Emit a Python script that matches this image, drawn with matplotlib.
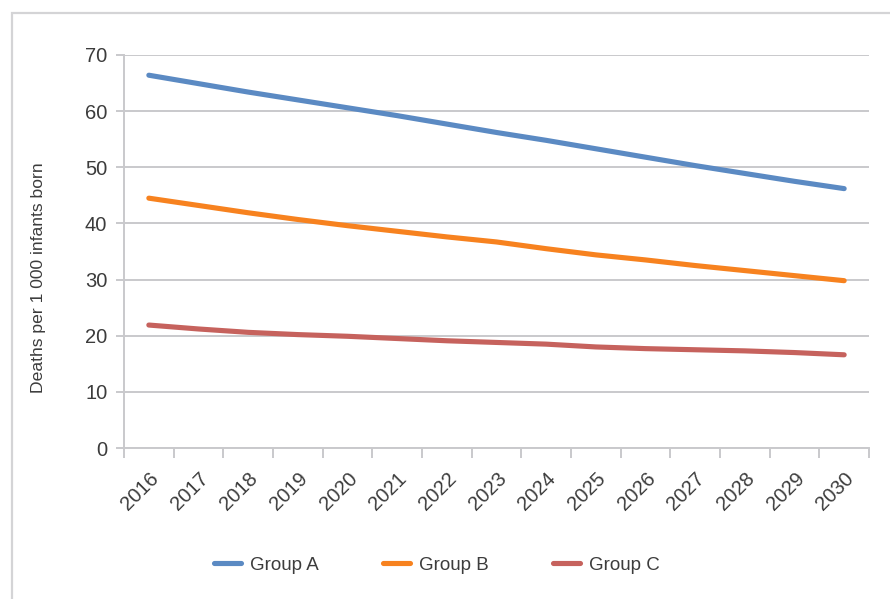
import matplotlib
matplotlib.use("Agg")
import matplotlib.pyplot as plt
from matplotlib.patches import Rectangle
import numpy as np

years = [str(y) for y in range(2016, 2031)]
group_a = [66.4, 64.9, 63.4, 62.0, 60.6, 59.2, 57.7, 56.2, 54.8, 53.3, 51.8, 50.3, 48.9, 47.5, 46.2]
group_b = [44.5, 43.2, 41.9, 40.7, 39.6, 38.6, 37.6, 36.7, 35.5, 34.4, 33.5, 32.5, 31.6, 30.7, 29.8]
group_c = [21.9, 21.2, 20.6, 20.2, 19.9, 19.5, 19.1, 18.8, 18.5, 18.0, 17.7, 17.5, 17.3, 17.0, 16.6]
series_names = ["Group A", "Group B", "Group C"]
colors = ["#5b8ac3", "#f7821f", "#c6625d"]
y_ticks = [0, 10, 20, 30, 40, 50, 60, 70]

plt.rcParams['font.family'] = ['Liberation Sans', 'DejaVu Sans']
txt = "#3c3c3c"
grid_c = "#c9c9cc"

fig = plt.figure(figsize=(8.9, 5.99), dpi=100)
W, H = 890, 599
ax = fig.add_axes([124 / W, 1 - 448 / H, (869 - 124) / W, (448 - 55) / H])

# outer border
fig.patches.append(Rectangle((12 / W, -0.05), 1.0, 1 - 13 / H + 0.05, transform=fig.transFigure,
                             fill=False, edgecolor="#d4d4d6", linewidth=1.6))

n = len(years)
x = np.arange(n) + 0.5
for vals, name, c in zip([group_a, group_b, group_c], series_names, colors):
    ax.plot(x, vals, color=c, lw=3.7, solid_capstyle='round', label=name)

ax.set_xlim(0, n)
ax.set_ylim(0, 70)
ax.set_yticks(y_ticks)
ax.set_yticklabels([str(v) for v in y_ticks], fontsize=14.5, color=txt)
ax.yaxis.grid(True, color=grid_c, lw=1.4)
ax.set_axisbelow(True)

ax.set_xticks(x)
ax.set_xticklabels(years, rotation=45, ha='right', va='top', rotation_mode='anchor',
                   fontsize=14.5, color=txt)
ax.set_xticks(np.arange(n + 1), minor=True)
ax.tick_params(axis='x', which='major', length=0, pad=15)
ax.tick_params(axis='x', which='minor', length=7, width=1.4, color=grid_c, direction='out')
ax.tick_params(axis='y', length=6, width=1.4, color=grid_c, pad=6)

for s in ['top', 'right']:
    ax.spines[s].set_visible(False)
for s in ['left', 'bottom']:
    ax.spines[s].set_color(grid_c)
    ax.spines[s].set_linewidth(1.4)

fig.text(39 / W, 1 - 278 / H, "Deaths per 1 000 infants born", rotation=90,
         ha='center', va='center', fontsize=12.6, color=txt)

leg = fig.legend(loc='center', bbox_to_anchor=(437 / W, 1 - 565 / H), ncol=3, frameon=False,
                 fontsize=13.5, handlelength=1.45, handletextpad=0.5, columnspacing=3.4)
for t in leg.get_texts():
    t.set_color(txt)

fig.savefig("out.png", dpi=100)
